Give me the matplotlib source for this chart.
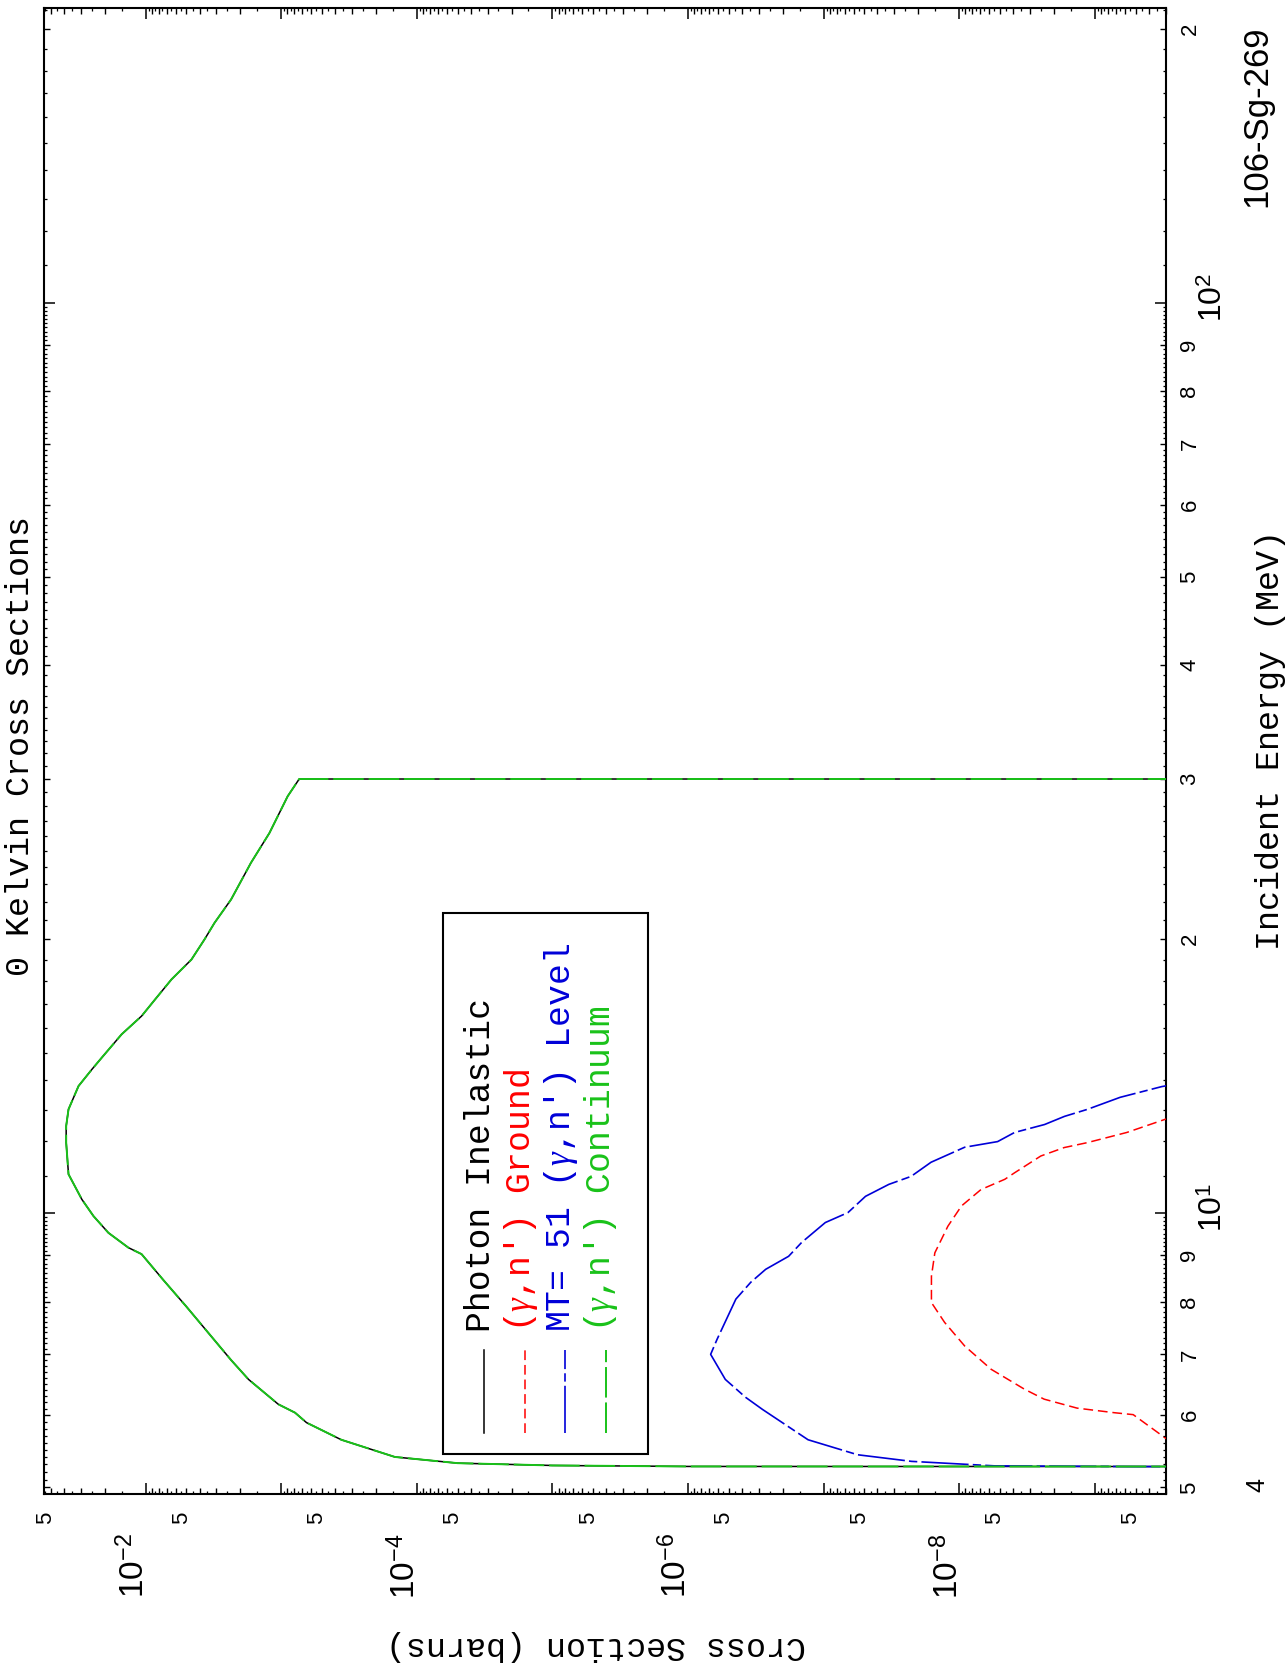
import matplotlib
matplotlib.use("Agg")
import matplotlib.pyplot as plt
from matplotlib import transforms
from matplotlib.ticker import FixedLocator, NullFormatter, NullLocator
from matplotlib.patches import Rectangle
from matplotlib.lines import Line2D

plt.rcParams['lines.scale_dashes'] = False
plt.rcParams['mathtext.fontset'] = 'custom'
plt.rcParams['mathtext.rm'] = 'Liberation Sans'
plt.rcParams['mathtext.it'] = 'Liberation Serif:italic'
plt.rcParams['mathtext.bf'] = 'Liberation Sans:bold'

# ---------------- data (energy in MeV, cross section in barns) ----------------
ZERO = 1e-20  # cross section is zero (drawn to the bottom of the scale)

inel_E = [5.268, 5.272, 5.285, 5.316, 5.40, 5.64, 5.89, 6.04, 6.17, 6.57, 6.90,
          7.91, 8.45, 9.02, 9.17, 9.52, 9.93, 10.36, 11.04, 11.96, 12.47, 13.01,
          13.80, 14.39, 14.83, 15.73, 16.47, 17.18, 18.07, 19.0, 20.0, 20.85,
          22.12, 24.27, 26.17, 28.72, 30.0, 30.0]
inel_xs = [ZERO, 1.0e-6, 1.0e-5, 5.0e-5, 1.45e-4, 3.6e-4, 6.5e-4, 7.9e-4, 1.05e-3,
           1.74e-3, 2.34e-3, 5.04e-3, 7.4e-3, 1.07e-2, 1.34e-2, 1.88e-2, 2.42e-2,
           2.95e-2, 3.70e-2, 3.85e-2, 3.85e-2, 3.70e-2, 3.12e-2, 2.49e-2, 2.10e-2,
           1.50e-2, 1.07e-2, 8.5e-3, 6.44e-3, 4.59e-3, 3.67e-3, 3.10e-3, 2.34e-3,
           1.67e-3, 1.22e-3, 8.95e-4, 7.36e-4, ZERO]

cont_E = list(inel_E)
cont_xs = list(inel_xs)

ground_E = [5.268, 5.62, 6.01, 6.04, 6.11, 6.25, 6.41, 6.74, 7.15, 7.59, 7.98,
            8.53, 9.05, 9.68, 10.19, 10.62, 10.9, 11.08, 11.56, 11.81, 11.96,
            12.27, 12.69, 13.0]
ground_xs = [1e-12, 2.8e-10, 5.2e-10, 7.2e-10, 1.35e-9, 2.36e-9, 3.3e-9, 5.8e-9,
             9.1e-9, 1.28e-8, 1.60e-8, 1.60e-8, 1.51e-8, 1.21e-8, 9.6e-9, 6.9e-9,
             4.6e-9, 3.9e-9, 2.5e-9, 1.68e-9, 1.13e-9, 5.8e-10, 3.0e-10, 1.0e-10]

level_E = [5.268, 5.27, 5.28, 5.34, 5.43, 5.64, 6.09, 6.28, 6.57, 7.00, 7.27, 8.05,
           8.40, 8.68, 8.97, 9.29, 9.77, 10.02, 10.44, 10.76, 10.98, 11.38, 11.82,
           11.99, 12.27, 12.52, 12.78, 13.01, 13.41, 13.78, 14.2]
level_xs = [ZERO, 4.7e-10, 5.5e-9, 2.24e-8, 5.6e-8, 1.30e-7, 2.82e-7, 3.76e-7,
            5.3e-7, 6.8e-7, 6.1e-7, 4.43e-7, 3.44e-7, 2.67e-7, 1.81e-7, 1.45e-7,
            9.7e-8, 6.6e-8, 4.9e-8, 3.3e-8, 2.26e-8, 1.61e-8, 9.1e-9, 5.2e-9,
            3.9e-9, 2.34e-9, 1.67e-9, 1.13e-9, 6.5e-10, 3.2e-10, 1.0e-10]

legend_labels = ["Photon Inelastic", r"($\gamma$,n') Ground",
                 r"MT= 51 ($\gamma$,n') Level", r"($\gamma$,n') Continuum"]

XS_MAX, XS_MIN = 0.0561, 2.98e-10
E_MIN, E_MAX = 4.917, 210.9

xs_decades = [1e-2, 1e-3, 1e-4, 1e-5, 1e-6, 1e-7, 1e-8, 1e-9]
xs_decade_labels = {1e-2: r'$10^{-2}$', 1e-4: r'$10^{-4}$',
                    1e-6: r'$10^{-6}$', 1e-8: r'$10^{-8}$'}
e_decades = [10.0, 100.0]
e_decade_labels = {10.0: r'$10^{1}$', 100.0: r'$10^{2}$'}
e_digit_labels = [5, 6, 7, 8, 9, 20, 30, 40, 50, 60, 70, 80, 90, 200]

# ---------------- figure ----------------
W, H = 1287, 1673
DPI = 100
fig = plt.figure(figsize=(W / DPI, H / DPI), dpi=DPI)
fig.patch.set_facecolor('white')

L, R, T, B = 44, 1166, 8, 1494
pos = [L / W, 1 - B / H, (R - L) / W, (B - T) / H]
ax = fig.add_axes(pos)
axf = fig.add_axes(pos, frameon=False)
axf.patch.set_visible(False)

for a in (ax, axf):
    a.set_xscale('log')
    a.set_yscale('log')
    a.set_xlim(XS_MAX, XS_MIN)
    a.set_ylim(E_MIN, E_MAX)

for s in ax.spines.values():
    s.set_linewidth(1.5)

# tick positions
xs_medium, xs_fine = [], []
for n in range(-11, 0):
    for k in range(2, 10):
        xs_medium.append(k * 10.0 ** n)
    for k in range(1, 10):
        xs_fine.append((k + 0.5) * 10.0 ** n)
e_medium, e_fine = [], []
for n in range(0, 3):
    for k in range(2, 10):
        e_medium.append(k * 10.0 ** n)
    for k in range(1, 10):
        for j in range(1, 10):
            e_fine.append((k + j / 10.0) * 10.0 ** n)

ax.xaxis.set_major_locator(FixedLocator(xs_decades))
ax.xaxis.set_minor_locator(FixedLocator(xs_medium))
ax.yaxis.set_major_locator(FixedLocator(e_decades))
ax.yaxis.set_minor_locator(FixedLocator(e_medium))
for axis in (ax.xaxis, ax.yaxis):
    axis.set_major_formatter(NullFormatter())
    axis.set_minor_formatter(NullFormatter())
ax.tick_params(which='major', direction='in', length=8, width=1.1,
               top=True, bottom=True, left=True, right=True)
ax.tick_params(which='minor', direction='in', length=4.3, width=1.0,
               top=True, bottom=True, left=True, right=True)

axf.xaxis.set_major_locator(FixedLocator(xs_fine))
axf.yaxis.set_major_locator(FixedLocator(e_fine))
axf.xaxis.set_minor_locator(NullLocator())
axf.yaxis.set_minor_locator(NullLocator())
axf.xaxis.set_major_formatter(NullFormatter())
axf.yaxis.set_major_formatter(NullFormatter())
axf.tick_params(which='major', direction='in', length=2.4, width=0.9,
                top=True, bottom=True, left=True, right=True)

# ---------------- curves ----------------
RED, BLUE, GREEN = '#ff0000', '#0000d8', '#19c219'
red_dash = (7, 3.5)
blue_dash = (34, 3, 6, 3)
green_dash = (22, 3.5)
ax.plot(inel_xs, inel_E, color='black', lw=1.1, zorder=3)
ax.plot(ground_xs, ground_E, color=RED, lw=1.1, dashes=red_dash, zorder=4)
ax.plot(level_xs, level_E, color=BLUE, lw=1.2, dashes=blue_dash, zorder=4)
ax.plot(cont_xs, cont_E, color=GREEN, lw=1.4, dashes=green_dash, zorder=5)

# ---------------- tick labels ----------------
sans = ['Liberation Sans', 'DejaVu Sans']
mono = ['Liberation Mono', 'DejaVu Sans Mono']

tx = transforms.blended_transform_factory(ax.transData, fig.transFigure)
for n in range(-10, -1):
    v = 5.0 * 10.0 ** n
    if XS_MIN <= v <= XS_MAX * 1.001:
        fig.text(v, 1 - 1518 / H, '5', rotation=90, ha='center', va='center',
                 fontsize=16, family=sans,
                 transform=transforms.offset_copy(tx, fig=fig, x=-5, y=0, units='dots'))
for v, s in xs_decade_labels.items():
    fig.text(v, 1 - 1566 / H, s, rotation=90, ha='center', va='center',
             fontsize=24, transform=transforms.offset_copy(tx, fig=fig, x=-11, y=0, units='dots'))

ty = transforms.blended_transform_factory(fig.transFigure, ax.transData)
for v in e_digit_labels:
    d = str(int(v / 10 ** (len(str(int(v))) - 1)))
    fig.text(1190 / W, v, d, rotation=90, ha='center', va='center',
             fontsize=16, family=sans, transform=ty)
for v, s in e_decade_labels.items():
    fig.text(1213 / W, v, s, rotation=90, ha='center', va='center', fontsize=23,
             transform=transforms.offset_copy(ty, fig=fig, x=0, y=6, units='dots'))

# ---------------- titles / labels ----------------
def ftext(x, y, s, **kw):
    fig.text(x / W, 1 - y / H, s, **kw)

ftext(21, 746, '0 Kelvin Cross Sections', rotation=90, ha='center', va='center',
      fontsize=24, family=mono)
ftext(1271, 740, 'Incident Energy (MeV)', rotation=90, ha='center', va='center',
      fontsize=24, family=mono)
ftext(596, 1646, 'Cross Section (barns)', rotation=180, ha='center', va='center',
      fontsize=24, family=mono)
ftext(1257, 116, '106-Sg-269', rotation=90, ha='center', va='center',
      fontsize=25, family=sans)
ftext(1257, 1485, '4', rotation=90, ha='center', va='center', fontsize=18, family=sans)

# ---------------- legend ----------------
fig.patches.append(Rectangle((443 / W, 1 - 1454 / H), (648 - 443) / W, (1454 - 913) / H,
                             transform=fig.transFigure, fill=False, lw=1.5,
                             edgecolor='black', zorder=6))
leg_styles = [dict(color='black', lw=1.1),
              dict(color=RED, lw=1.1, dashes=red_dash),
              dict(color=BLUE, lw=1.2, dashes=blue_dash),
              dict(color=GREEN, lw=1.4, dashes=green_dash)]
leg_colors = ['black', RED, BLUE, GREEN]
leg_line_x = [484, 525, 565, 606]
leg_text_x = [480, 521, 561, 601]
for lx, tx_, lab, sty, col in zip(leg_line_x, leg_text_x, legend_labels, leg_styles, leg_colors):
    fig.lines.append(Line2D([lx / W, lx / W], [1 - 1433 / H, 1 - 1350 / H],
                            transform=fig.transFigure, **sty))
    ftext(tx_, 1332, lab, rotation=90, ha='center', va='bottom', fontsize=25,
          family=mono, color=col)

fig.savefig('out.png', dpi=DPI, facecolor='white')
